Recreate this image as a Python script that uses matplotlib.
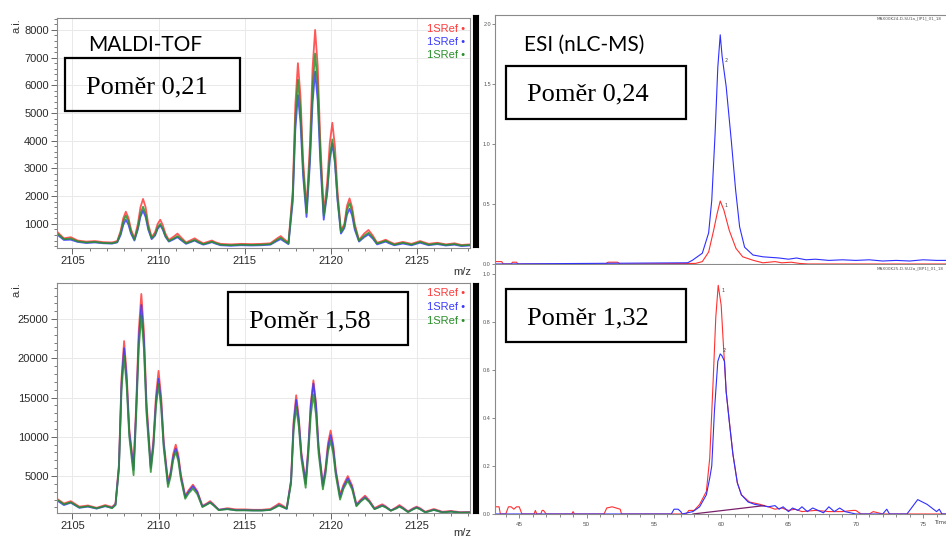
"""MALDI-TOF vs ESI (nLC-MS) comparison: four panels with ratio boxes."""

import matplotlib

matplotlib.use("Agg")
import matplotlib.pyplot as plt
from matplotlib.patches import Rectangle
from matplotlib.ticker import AutoMinorLocator, MultipleLocator

# ---------------------------------------------------------------- data
series_names = ["1SRef", "1SRef", "1SRef"]
maldi_colors = ["#ff3b3b", "#3b3bff", "#2a8f2a"]

# MALDI-TOF, sample 1 (ratio 0,21)
mz_top = [2104.1, 2104.5, 2104.9, 2105.3, 2105.8, 2106.3, 2106.8, 2107.3, 2107.6,
          2107.8, 2107.95, 2108.1, 2108.25, 2108.4, 2108.6,
          2108.8, 2108.95, 2109.1, 2109.25, 2109.4, 2109.6,
          2109.8, 2109.95, 2110.1, 2110.25, 2110.4, 2110.6,
          2110.9, 2111.1, 2111.3, 2111.6,
          2111.9, 2112.1, 2112.3, 2112.6,
          2112.9, 2113.1, 2113.3, 2113.6,
          2114.2, 2114.8, 2115.4, 2116.0, 2116.5,
          2116.9, 2117.1, 2117.3, 2117.55,
          2117.8, 2117.95, 2118.1, 2118.25, 2118.4, 2118.6,
          2118.8, 2118.95, 2119.1, 2119.25, 2119.4, 2119.6,
          2119.8, 2119.95, 2120.1, 2120.25, 2120.4, 2120.6,
          2120.8, 2120.95, 2121.1, 2121.25, 2121.4, 2121.65,
          2121.95, 2122.2, 2122.45, 2122.7,
          2123.0, 2123.2, 2123.4, 2123.7,
          2124.2, 2124.7, 2125.2, 2125.7, 2126.2, 2126.7, 2127.2, 2127.6, 2128.1]
top_red = [720, 480, 520, 400, 360, 380, 340, 330, 380,
           750, 1200, 1440, 1220, 800, 480,
           1000, 1600, 1900, 1600, 1000, 520,
           700, 1000, 1150, 950, 650, 420,
           550, 650, 520, 330,
           420, 480, 400, 300,
           360, 400, 340, 280,
           260, 280, 270, 280, 300,
           480, 560, 450, 330,
           2200, 5300, 6800, 5600, 3300, 1550,
           3900, 6600, 8000, 6700, 4000, 1400,
           2500, 3900, 4650, 3800, 2200, 750,
           1000, 1650, 1920, 1600, 1000, 420,
           650, 780, 580, 320,
           380, 430, 360, 280,
           350, 280, 380, 280, 320, 260, 300, 240, 260]
top_blue = [620, 420, 430, 350, 310, 330, 300, 290, 330,
            600, 960, 1150, 980, 650, 400,
            800, 1260, 1480, 1250, 800, 450,
            580, 820, 950, 790, 540, 360,
            450, 520, 420, 280,
            350, 400, 330, 250,
            300, 340, 290, 230,
            210, 230, 220, 230, 250,
            390, 450, 370, 270,
            1800, 4400, 5650, 4650, 2750, 1250,
            3200, 5350, 6500, 5450, 3250, 1150,
            2100, 3300, 3900, 3200, 1850, 650,
            850, 1330, 1550, 1300, 800, 360,
            520, 620, 470, 260,
            320, 360, 300, 230,
            290, 230, 320, 230, 270, 220, 250, 200, 220]
top_green = [660, 450, 470, 370, 330, 350, 310, 300, 350,
             680, 1080, 1300, 1100, 720, 430,
             870, 1370, 1620, 1370, 870, 480,
             620, 870, 1000, 830, 570, 380,
             480, 560, 450, 300,
             370, 420, 350, 270,
             320, 360, 310, 250,
             230, 250, 240, 250, 270,
             430, 500, 400, 290,
             2000, 4800, 6200, 5100, 3000, 1400,
             3500, 5900, 7150, 6000, 3600, 1300,
             2150, 3400, 4050, 3300, 1950, 700,
             920, 1500, 1750, 1450, 900, 390,
             570, 680, 510, 290,
             350, 390, 330, 250,
             320, 250, 350, 250, 290, 240, 270, 220, 240]

# MALDI-TOF, sample 2 (ratio 1,58)
mz_bot = [2104.1, 2104.5, 2104.9, 2105.4, 2105.9, 2106.4, 2106.9, 2107.3, 2107.5,
          2107.7, 2107.85, 2108.0, 2108.15, 2108.3, 2108.55,
          2108.7, 2108.85, 2109.0, 2109.15, 2109.3, 2109.55,
          2109.7, 2109.85, 2110.0, 2110.15, 2110.3, 2110.55,
          2110.7, 2110.85, 2111.0, 2111.15, 2111.3, 2111.55,
          2111.75, 2112.0, 2112.25, 2112.55,
          2112.8, 2113.0, 2113.2, 2113.5,
          2114.0, 2114.5, 2115.0, 2115.5, 2116.0, 2116.5,
          2116.8, 2117.0, 2117.2, 2117.45,
          2117.7, 2117.85, 2118.0, 2118.15, 2118.3, 2118.55,
          2118.7, 2118.85, 2119.0, 2119.15, 2119.3, 2119.55,
          2119.7, 2119.85, 2120.0, 2120.15, 2120.3, 2120.55,
          2120.75, 2121.0, 2121.25, 2121.5,
          2121.75, 2122.0, 2122.25, 2122.55,
          2122.8, 2123.0, 2123.2, 2123.5,
          2123.8, 2124.0, 2124.2, 2124.5,
          2124.8, 2125.0, 2125.2, 2125.5,
          2126.0, 2126.5, 2127.0, 2127.5, 2128.1]
bot_red = [2100, 1500, 1800, 1100, 1250, 950, 1300, 1050, 1500,
           6500, 17500, 22200, 18000, 11000, 6200,
           14000, 23500, 28200, 23500, 14500, 6300,
           9500, 15200, 18400, 15200, 9500, 4300,
           5500, 7800, 9000, 7700, 5200, 2500,
           3200, 3900, 3100, 1200,
           1500, 1800, 1400, 700,
           900, 750, 750, 700, 700, 800,
           1200, 1500, 1250, 900,
           4500, 12000, 15300, 12500, 8000, 4400,
           8500, 14300, 17200, 14300, 8800, 4000,
           6000, 9200, 10800, 9000, 5800, 2600,
           3900, 5000, 3800, 1400,
           2000, 2500, 1900, 900,
           1200, 1400, 1150, 600,
           1000, 1300, 1000, 500,
           900, 1100, 900, 450,
           800, 450, 550, 400, 420]
bot_blue = [1900, 1300, 1600, 950, 1100, 850, 1150, 950, 1350,
            6200, 16800, 21300, 17200, 10500, 5800,
            13300, 22300, 26800, 22300, 13700, 6000,
            9000, 14400, 17400, 14400, 9000, 4000,
            5200, 7400, 8500, 7300, 4900, 2300,
            3000, 3700, 2950, 1100,
            1400, 1650, 1300, 700,
            800, 650, 650, 620, 620, 700,
            1050, 1300, 1100, 800,
            4300, 11500, 14700, 12000, 7700, 4000,
            8300, 14000, 16800, 14000, 8600, 3700,
            5600, 8700, 10200, 8500, 5500, 2300,
            3650, 4700, 3550, 1250,
            1850, 2300, 1750, 800,
            1050, 1250, 1050, 600,
            900, 1150, 900, 420,
            800, 1000, 800, 380,
            700, 380, 480, 340, 360]
bot_green = [2000, 1400, 1650, 1000, 1150, 880, 1200, 900, 1300,
             5900, 16000, 20300, 16400, 10000, 5100,
             12600, 21200, 25500, 21200, 13000, 5500,
             8600, 13800, 16700, 13800, 8600, 3600,
             4900, 7000, 8100, 6900, 4600, 2100,
             2800, 3400, 2700, 1050,
             1350, 1600, 1250, 650,
             780, 620, 630, 600, 600, 680,
             1000, 1250, 1050, 850,
             4000, 10800, 13800, 11300, 7200, 3500,
             7600, 12800, 15400, 12800, 7900, 3300,
             5200, 8100, 9500, 7900, 5100, 2000,
             3400, 4400, 3300, 1150,
             1750, 2200, 1700, 780,
             1000, 1200, 1000, 580,
             850, 1100, 850, 400,
             760, 950, 760, 370,
             680, 370, 460, 330, 350]

# ESI (nLC-MS) chromatograms, sample 1 (ratio 0,24), intensity x1e6
esi1_t_blue = [43.2, 57.5, 57.85, 58.6, 59.07, 59.3, 59.55, 59.75, 59.93, 60.07,
               60.37, 60.75, 61.07, 61.37, 61.74, 62.36, 63.1, 64.3, 65.0, 65.6,
               66.3, 67.0, 68.0, 69.0, 70.0, 71.0, 72.0, 73.0, 74.0, 75.0, 76.0, 76.7]
esi1_blue = [0.0, 0.01, 0.03, 0.09, 0.26, 0.53, 1.09, 1.64, 1.91, 1.73, 1.48, 1.03,
             0.62, 0.31, 0.14, 0.075, 0.06, 0.05, 0.04, 0.05, 0.035, 0.04, 0.03,
             0.035, 0.03, 0.035, 0.025, 0.03, 0.025, 0.035, 0.03, 0.03]
esi1_t_red = [43.2, 43.7, 43.8, 44.4, 44.5, 44.8, 44.9, 51.4, 51.6, 52.3, 52.5,
              58.1, 58.6, 59.07, 59.44, 59.7, 59.93, 60.2, 60.6, 61.1, 61.6, 62.4,
              63.1, 64.0, 64.5, 65.2, 65.8, 66.5, 76.7]
esi1_red = [0.02, 0.02, 0.0, 0.0, 0.015, 0.015, 0.0, 0.0, 0.015, 0.015, 0.0,
            0.005, 0.02, 0.1, 0.28, 0.42, 0.525, 0.45, 0.28, 0.13, 0.06, 0.03,
            0.01, 0.02, 0.01, 0.015, 0.005, 0.0, 0.0]
esi1_peak_labels = [(60.25, 1.70, "2"), (60.22, 0.49, "1")]

# ESI (nLC-MS) chromatograms, sample 2 (ratio 1,32), intensity x1e6
esi2_t_red = [43.2, 43.5, 43.6, 44.0, 44.2, 44.4, 44.6, 44.8, 45.0, 45.2, 45.4,
              46.1, 46.2, 46.3, 46.6, 46.7, 46.8, 47.0, 48.9, 49.0, 49.1, 51.3,
              51.5, 51.9, 52.2, 52.5, 52.6, 57.4, 57.6, 58.0, 58.4, 58.9, 59.15,
              59.4, 59.6, 59.78, 60.0, 60.15, 60.37, 60.6, 60.87, 61.2, 61.5, 62.1,
              62.9, 63.5, 64.0, 64.5, 65.0, 65.5, 66.0, 67.0, 68.0, 69.0, 69.8,
              70.0, 70.4, 71.0, 71.3, 72.0, 72.3, 73.0, 76.7]
esi2_red = [0.03, 0.03, 0.0, 0.0, 0.03, 0.03, 0.02, 0.03, 0.03, 0.0, 0.0, 0.0,
            0.015, 0.0, 0.0, 0.015, 0.015, 0.0, 0.0, 0.01, 0.0, 0.0, 0.025, 0.03,
            0.025, 0.02, 0.0, 0.0, 0.015, 0.015, 0.04, 0.094, 0.233, 0.55, 0.82,
            0.953, 0.87, 0.72, 0.51, 0.39, 0.25, 0.13, 0.08, 0.05, 0.04, 0.03, 0.02,
            0.025, 0.015, 0.02, 0.01, 0.015, 0.01, 0.01, 0.015, 0.015, 0.0, 0.0,
            0.01, 0.0, 0.0, 0.0, 0.0]
esi2_t_blue = [43.2, 56.3, 56.5, 56.8, 57.0, 57.1, 57.9, 58.4, 58.9, 59.15, 59.3,
               59.5, 59.75, 59.93, 60.05, 60.25, 60.37, 60.6, 60.87, 61.2, 61.5,
               62.0, 62.5, 63.0, 63.5, 64.0, 64.3, 64.6, 65.0, 65.3, 65.7, 66.0,
               66.4, 66.8, 67.2, 67.6, 68.0, 68.4, 68.8, 69.2, 70.0, 71.0, 72.0,
               72.3, 72.5, 73.5, 73.8, 74.6, 75.3, 76.0, 76.2, 76.4, 76.7]
esi2_blue = [0.0, 0.0, 0.02, 0.02, 0.01, 0.0, 0.01, 0.03, 0.08, 0.15, 0.2, 0.43,
             0.636, 0.667, 0.66, 0.636, 0.51, 0.386, 0.25, 0.13, 0.08, 0.05, 0.04,
             0.035, 0.03, 0.035, 0.02, 0.03, 0.01, 0.025, 0.015, 0.03, 0.01, 0.025,
             0.015, 0.005, 0.03, 0.01, 0.025, 0.01, 0.0, 0.0, 0.0, 0.02, 0.0, 0.0,
             0.0, 0.06, 0.04, 0.01, 0.02, 0.0, 0.0]
esi2_base_t = [57.9, 63.2]
esi2_base_y = [0.0, 0.035]
esi2_peak_labels = [(60.0, 0.93, "1"), (60.1, 0.68, "2")]

esi_colors = {"red": "#ff3030", "blue": "#2f2fff"}
ratio_texts = ["Poměr 0,21", "Poměr 1,58", "Poměr 0,24", "Poměr 1,32"]

# ---------------------------------------------------------------- layout
W, H = 946, 538
fig = plt.figure(figsize=(W / 100, H / 100), dpi=100)
fig.patch.set_facecolor("white")


def rect(left, top, right, bottom):
    return [left / W, 1 - bottom / H, (right - left) / W, (bottom - top) / H]


def ftext(x, y, s, **kw):
    return fig.text(x / W, 1 - y / H, s, **kw)


def ratio_box(box, text_xy, s):
    left, top, right, bottom = box
    fig.add_artist(Rectangle((left / W, 1 - bottom / H), (right - left) / W,
                             (bottom - top) / H, transform=fig.transFigure,
                             fill=False, edgecolor="black", lw=1.6))
    ftext(*text_xy, s, family="Liberation Serif", fontsize=19,
          ha="center", va="baseline", color="black")


def maldi_panel(box, mz, series, ylim, ymajor, legend_y, bar_box):
    ax = fig.add_axes(rect(*box))
    for vals, color in zip(series, maldi_colors):
        ax.plot(mz, vals, color=color, lw=1.3, alpha=0.85)
    ax.set_xlim(2104.1, 2128.1)
    ax.set_ylim(*ylim)
    ax.xaxis.set_major_locator(MultipleLocator(5))
    ax.xaxis.set_minor_locator(MultipleLocator(1))
    ax.yaxis.set_major_locator(MultipleLocator(ymajor))
    ax.yaxis.set_minor_locator(AutoMinorLocator(5))
    ax.grid(True, which="major", color="#e9e9e9", lw=0.7)
    ax.set_axisbelow(True)
    for sp in ax.spines.values():
        sp.set_color("#8a8a8a")
        sp.set_linewidth(0.8)
    ax.tick_params(which="major", length=4, width=0.7, color="#666",
                   labelsize=8, labelcolor="#2a2a2a", pad=2)
    ax.tick_params(which="minor", length=2, width=0.6, color="#666")
    for lab in ax.get_xticklabels() + ax.get_yticklabels():
        lab.set_family("Liberation Sans")
    # legend entries at the top right
    for name, color, y in zip(series_names, maldi_colors, legend_y):
        ftext(465, y, f"{name} •", family="Liberation Sans", fontsize=8,
              color=color, ha="right", va="center")
    # black side bar of the viewer
    bar = fig.add_axes(rect(*bar_box))
    bar.set_facecolor("black")
    bar.set_xticks([])
    bar.set_yticks([])
    return ax


def esi_panel(box, ylim, yticks, show_x):
    ax = fig.add_axes(rect(*box))
    ax.set_xlim(43.2, 76.7)
    ax.set_ylim(*ylim)
    ax.set_yticks(yticks)
    ax.set_yticklabels([f"{v:.1f}" for v in yticks])
    ax.spines["right"].set_visible(False)
    for sp in ax.spines.values():
        sp.set_color("#8a8a8a")
        sp.set_linewidth(0.8)
    ax.tick_params(axis="y", length=2, width=0.6, color="#777",
                   labelsize=4, labelcolor="#555", pad=1)
    if show_x:
        ax.spines["top"].set_visible(False)
        ax.xaxis.set_major_locator(MultipleLocator(5))
        ax.xaxis.set_minor_locator(MultipleLocator(1))
        ax.tick_params(axis="x", which="major", length=3, width=0.6,
                       color="#777", labelsize=4.5, labelcolor="#555", pad=3)
        ax.tick_params(axis="x", which="minor", length=2, width=0.6, color="#777")
        ax.set_xticklabels([f"{v:.0f}" for v in ax.get_xticks()])
    else:
        ax.set_xticks([])
    for lab in ax.get_xticklabels() + ax.get_yticklabels():
        lab.set_family("Liberation Sans")
    return ax


# ---------------------------------------------------------------- MALDI
ax1 = maldi_panel((57, 18, 470, 248), mz_top, [top_red, top_blue, top_green],
                  (130, 8430), 1000, [29, 42, 55], (473, 15, 478, 247))
ax2 = maldi_panel((57, 283, 470, 513), mz_bot, [bot_red, bot_blue, bot_green],
                  (290, 29600), 5000, [293, 307, 321], (473, 283, 478, 513))
for y in (26, 290):
    ftext(16, y, "a.i.", family="Liberation Sans", fontsize=8, color="#333",
          rotation=90, ha="center", va="center")
for y in (272, 533):
    ftext(462, y, "m/z", family="Liberation Sans", fontsize=8, color="#333",
          ha="center", va="center")

ftext(88, 45, "MALDI-TOF", family="Lato", fontsize=15, ha="left", va="center")
ratio_box((65, 58, 240, 111), (147, 93), ratio_texts[0])
ratio_box((228, 292, 408, 345), (310, 327), ratio_texts[1])

# ---------------------------------------------------------------- ESI
ax3 = esi_panel((495, 15, 946, 264), (0, 2.075), [0.0, 0.5, 1.0, 1.5, 2.0], False)
ax3.plot(esi1_t_red, esi1_red, color=esi_colors["red"], lw=0.8)
ax3.plot(esi1_t_blue, esi1_blue, color=esi_colors["blue"], lw=0.8)
for t, v, s in esi1_peak_labels:
    ax3.text(t, v, s, fontsize=3.5, color="#444", ha="left", va="center")

ax4 = esi_panel((495, 265, 946, 514), (0, 1.0375),
                [0.0, 0.2, 0.4, 0.6, 0.8, 1.0], True)
ax4.plot(esi2_t_red, esi2_red, color=esi_colors["red"], lw=0.8)
ax4.plot(esi2_t_blue, esi2_blue, color=esi_colors["blue"], lw=0.8)
ax4.plot(esi2_base_t, esi2_base_y, color="#7a1f6a", lw=0.9)
for t, v, s in esi2_peak_labels:
    ax4.text(t, v, s, fontsize=3.5, color="#444", ha="left", va="center")

ftext(877, 18, "MAX00K24-D-SU1a_[IP1]_01_18", fontsize=3, color="#555",
      ha="left", va="center")
ftext(877, 268, "MAX00K25-D-SU2a_[BP1]_01_18", fontsize=3, color="#555",
      ha="left", va="center")
ftext(934, 523, "Time", fontsize=4, color="#444", ha="left", va="center")

ftext(524, 45, "ESI (nLC-MS)", family="Lato", fontsize=15, ha="left", va="center")
ratio_box((506, 66, 686, 119), (588, 100), ratio_texts[2])
ratio_box((506, 289, 686, 342), (588, 324), ratio_texts[3])

fig.savefig("out.png", dpi=100)
